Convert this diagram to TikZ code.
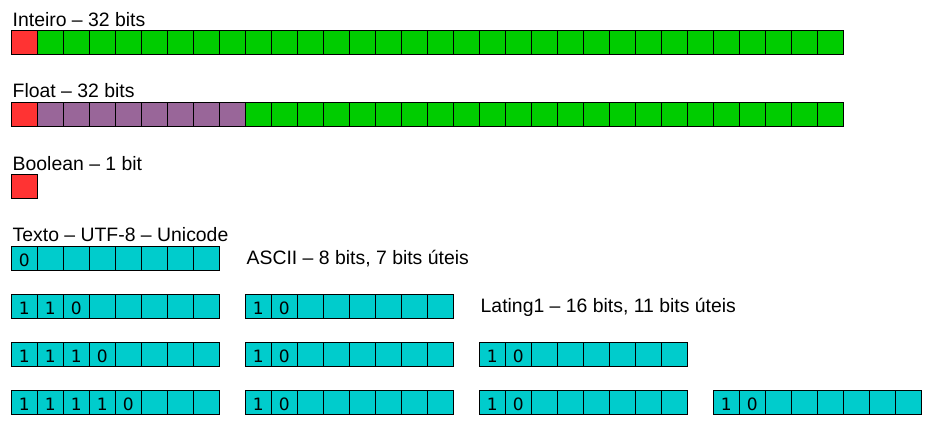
\documentclass[tikz,border=0pt]{standalone}
\usepackage{fontspec}
\setmainfont{Liberation Sans}
\newfontfamily\digitfont{DejaVu Sans}
\definecolor{bred}{HTML}{FF3333}
\definecolor{bgreen}{HTML}{00CC00}
\definecolor{bpurple}{HTML}{996699}
\definecolor{bcyan}{HTML}{00CCCC}
\newcommand\bitstrip[5]{% x, y, first index, last index, colour
  \foreach \i in {#3,...,#4}
    \draw[cellbox,fill=#5] ({#1+(\i-1)*26},#2) rectangle +(26,24);
}
\begin{document}
\begin{tikzpicture}[x=1pt,y=-1pt,
  cellbox/.style={draw=black,line width=1pt},
  lbl/.style={anchor=base west,inner sep=0pt,font=\fontsize{19.4}{23}\selectfont},
  dig/.style={anchor=base,inner sep=0pt,font=\digitfont\fontsize{17}{20}\selectfont}]
\useasboundingbox[fill=white] (0,0) rectangle (930,424);

% Inteiro
\node[lbl] (tint) at (12.5,26) {Inteiro – 32 bits};
\bitstrip{11.3}{30}{1}{1}{bred}
\bitstrip{11.3}{30}{2}{32}{bgreen}

% Float
\node[lbl] (tfloat) at (12.5,97.5) {Float – 32 bits};
\bitstrip{11.3}{102}{1}{1}{bred}
\bitstrip{11.3}{102}{2}{9}{bpurple}
\bitstrip{11.3}{102}{10}{32}{bgreen}

% Boolean
\node[lbl] (tbool) at (12.5,170) {Boolean – 1 bit};
\bitstrip{11.3}{174}{1}{1}{bred}

% Texto
\node[lbl] (ttexto) at (12.5,241) {Texto – UTF-8 – Unicode};
\node[lbl] (tascii) at (246.5,264.5) {ASCII – 8 bits, 7 bits úteis};
\node[lbl] (tlat) at (480.5,312.5) {Lating1 – 16 bits, 11 bits úteis};

% row 1
\bitstrip{11.3}{246.3}{1}{8}{bcyan}
\node[dig] (r1a) at (24.3,266) {0};

% row 2
\bitstrip{11.3}{294.3}{1}{8}{bcyan}
\bitstrip{245.3}{294.3}{1}{8}{bcyan}
\foreach \d [count=\k] in {1,1,0}
  \node[dig] (r2a\k) at ({24.3+(\k-1)*26},314) {\d};
\foreach \d [count=\k] in {1,0}
  \node[dig] (r2b\k) at ({258.3+(\k-1)*26},314) {\d};

% row 3
\bitstrip{11.3}{342.3}{1}{8}{bcyan}
\bitstrip{245.3}{342.3}{1}{8}{bcyan}
\bitstrip{479.3}{342.3}{1}{8}{bcyan}
\foreach \d [count=\k] in {1,1,1,0}
  \node[dig] (r3a\k) at ({24.3+(\k-1)*26},362) {\d};
\foreach \d [count=\k] in {1,0}
  \node[dig] (r3b\k) at ({258.3+(\k-1)*26},362) {\d};
\foreach \d [count=\k] in {1,0}
  \node[dig] (r3c\k) at ({492.3+(\k-1)*26},362) {\d};

% row 4
\bitstrip{11.3}{390.3}{1}{8}{bcyan}
\bitstrip{245.3}{390.3}{1}{8}{bcyan}
\bitstrip{479.3}{390.3}{1}{8}{bcyan}
\bitstrip{713.3}{390.3}{1}{8}{bcyan}
\foreach \d [count=\k] in {1,1,1,1,0}
  \node[dig] (r4a\k) at ({24.3+(\k-1)*26},410) {\d};
\foreach \d [count=\k] in {1,0}
  \node[dig] (r4b\k) at ({258.3+(\k-1)*26},410) {\d};
\foreach \d [count=\k] in {1,0}
  \node[dig] (r4c\k) at ({492.3+(\k-1)*26},410) {\d};
\foreach \d [count=\k] in {1,0}
  \node[dig] (r4d\k) at ({726.3+(\k-1)*26},410) {\d};
\end{tikzpicture}
\end{document}
